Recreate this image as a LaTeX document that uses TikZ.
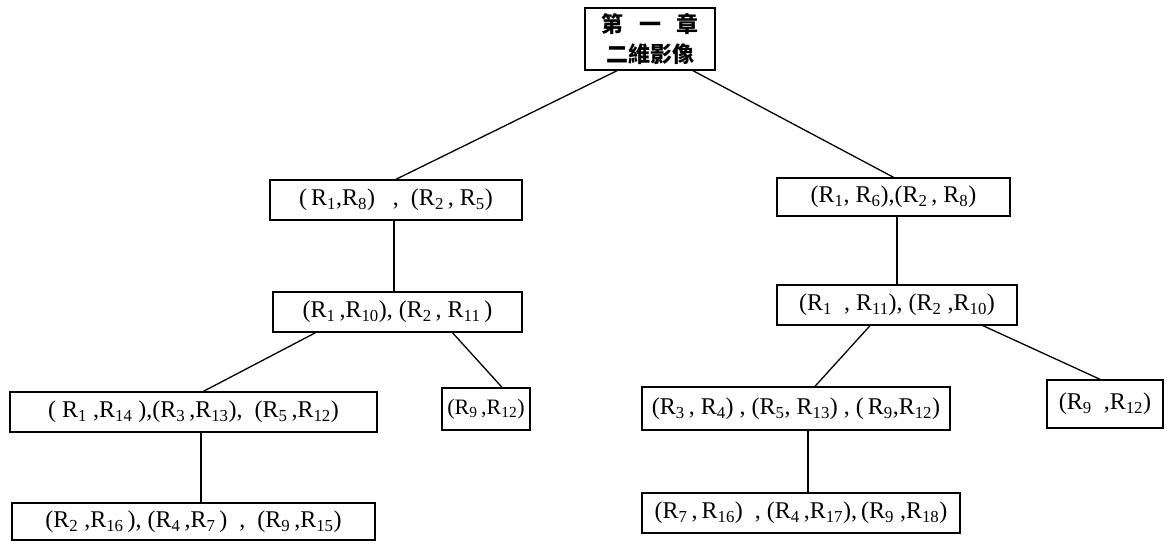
\documentclass[tikz,border=0pt]{standalone}
\usepackage{fontspec}
\setmainfont{Liberation Serif}
\newfontfamily\cjk{Noto Sans CJK TC}
\newcommand\Rs[1]{R\textsubscript{#1}}
\begin{document}
\begin{tikzpicture}[x=1pt,y=-1pt,
  box/.style={draw,line width=1.4pt,rectangle,inner sep=0pt,
    font=\fontsize{24}{28}\selectfont},
  link/.style={line width=1.3pt}]
\useasboundingbox (0,0) rectangle (1172,548);
% root
\node[box,minimum width=130pt,minimum height=62pt,align=center,
  font=\cjk\bfseries\fontsize{22}{30}\selectfont] (top) at (650,39)
  {第\hspace{16pt}一\hspace{16pt}章\\二維影像};
% first level
\node[box,minimum width=252pt,minimum height=40pt] (l1a) at (396,200)
  {(\,\Rs{1},\Rs{8})\ \ \ ,\ \ (\Rs{2}\,,\ \Rs{5})};
\node[box,minimum width=233pt,minimum height=38pt] (l1b) at (893.5,197)
  {(\Rs{1},\ \Rs{6}),(\Rs{2}\,,\ \Rs{8})};
% second level
\node[box,minimum width=249pt,minimum height=40pt] (l2a) at (397.5,312)
  {(\Rs{1}\,,\Rs{10}),\ (\Rs{2}\,,\ \Rs{11}\,)};
\node[box,minimum width=240pt,minimum height=40pt] (l2b) at (897,305)
  {(\Rs{1}\ \ ,\ \Rs{11}),\ (\Rs{2}\ ,\Rs{10})};
% third level
\node[box,minimum width=367pt,minimum height=40pt] (l3a) at (193.5,412)
  {(\ \Rs{1}\ ,\Rs{14}\ ),(\Rs{3}\,,\Rs{13}),\ \ (\Rs{5}\,,\Rs{12})};
\node[box,minimum width=88pt,minimum height=42pt,
  font=\fontsize{22}{26}\selectfont] (l3b) at (486,409)
  {(\Rs{9}\,,\Rs{12})};
\node[box,minimum width=308pt,minimum height=43pt] (l3c) at (796,408.5)
  {(\Rs{3}\,,\ \Rs{4})\ ,\ (\Rs{5},\ \Rs{13})\ ,\ (\,\Rs{9},\Rs{12})};
\node[box,minimum width=116pt,minimum height=48pt] (l3d) at (1105,404)
  {(\Rs{9}\ \ ,\Rs{12})};
% fourth level
\node[box,minimum width=363pt,minimum height=37pt] (l4a) at (193.5,521.5)
  {(\Rs{2}\ ,\Rs{16}\,),\ (\Rs{4}\,,\Rs{7}\,)\ \ ,\ \ (\Rs{9}\,,\Rs{15})};
\node[box,minimum width=318pt,minimum height=40pt] (l4b) at (801,513)
  {(\Rs{7}\,,\,\Rs{16})\ \ ,\ (\Rs{4}\,,\Rs{17}),\,(\Rs{9}\ ,\Rs{18})};
% connectors
\draw[link] ([xshift=-33pt]top.south) -- (l1a.north);
\draw[link] ([xshift=43pt]top.south) -- (l1b.north);
\draw[link] ([xshift=-2pt]l1a.south) -- ([xshift=-3.5pt]l2a.north);
\draw[link] ([xshift=3.5pt]l1b.south) -- (l2b.north);
\draw[link] ([xshift=-82pt]l2a.south) -- ([xshift=10pt]l3a.north);
\draw[link] ([xshift=55pt]l2a.south) -- ([xshift=16pt]l3b.north);
\draw[link] ([xshift=-27pt]l2b.south) -- ([xshift=19pt]l3c.north);
\draw[link] ([xshift=86pt]l2b.south) -- ([xshift=-5pt]l3d.north);
\draw[link] ([xshift=7.5pt]l3a.south) -- ([xshift=7.5pt]l4a.north);
\draw[link] ([xshift=12pt]l3c.south) -- ([xshift=7pt]l4b.north);
\end{tikzpicture}
\end{document}
